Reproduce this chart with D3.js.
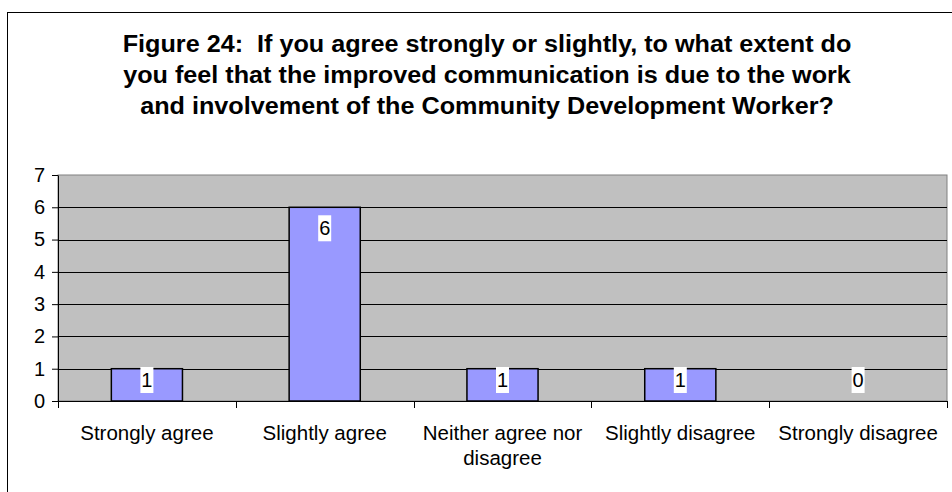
<!DOCTYPE html>
<html lang='en'>
    <head>
        <meta charset="utf-8">
        <script src="https://d3js.org/d3.v7.min.js"></script>
        <style>
            *{
                margin:0;
                padding:0
            }
            body{
                width:952px;
                height:492px;
                background-color:white;
                overflow:hidden;
            }
            svg{
                font-family:Arial,"Liberation Sans",sans-serif;
            }
            .title tspan{
                white-space:pre;
            }
        </style>
    </head>
    <body>
        <script>
            const categories=[['Strongly agree'],['Slightly agree'],['Neither agree nor','disagree'],['Slightly disagree'],['Strongly disagree']];
            const values=[1,6,1,1,0];
            const yTicks=[0,1,2,3,4,5,6,7];
            const titleLines=['Figure 24:  If you agree strongly or slightly, to what extent do',
                              'you feel that the improved communication is due to the work',
                              'and involvement of the Community Development Worker?'];

            const width=952,height=492;
            const plot={left:58,right:947,top:175,bottom:401};
            const fontSize=20;

            const svg=d3.select('body').append('svg')
                        .attr('width',width)
                        .attr('height',height);

            // outer chart border (runs past the right/bottom edge)
            svg.append('rect')
               .attr('x',7.5).attr('y',12.5)
               .attr('width',960).attr('height',500)
               .attr('fill','white')
               .attr('stroke','black')
               .attr('stroke-width',1);

            svg.append('text')
               .attr('class','title')
               .attr('transform','translate(487,0) scale(1.05,1)')
               .attr('text-anchor','middle')
               .attr('font-weight','bold')
               .attr('font-size',24)
               .selectAll('tspan')
               .data(titleLines)
               .enter()
               .append('tspan')
               .attr('x',0)
               .attr('y',(d,i)=>52+i*31)
               .text(d=>d);

            const xScale=d3.scaleBand()
                           .domain(d3.range(categories.length))
                           .range([plot.left,plot.right])
                           .paddingInner(0.6)
                           .paddingOuter(0.3);
            const xEdges=d3.scaleLinear()
                           .domain([0,categories.length])
                           .range([plot.left,plot.right]);
            const yScale=d3.scaleLinear()
                           .domain([0,7])
                           .range([plot.bottom,plot.top]);

            // plot area
            svg.append('rect')
               .attr('x',plot.left).attr('y',plot.top)
               .attr('width',plot.right-plot.left)
               .attr('height',plot.bottom-plot.top)
               .attr('fill','#C0C0C0')
               .attr('stroke','#808080')
               .attr('stroke-width',1);

            // gridlines
            svg.append('g')
               .selectAll('line')
               .data(yTicks.filter(d=>d>0&&d<7))
               .enter()
               .append('line')
               .attr('x1',plot.left).attr('x2',plot.right)
               .attr('y1',d=>Math.round(yScale(d))+0.5)
               .attr('y2',d=>Math.round(yScale(d))+0.5)
               .attr('stroke','black')
               .attr('stroke-width',1);

            // y axis
            const yAxis=svg.append('g')
               .attr('transform',`translate(${plot.left},0)`)
               .call(d3.axisLeft(yScale).tickValues(yTicks).tickFormat(d3.format('d'))
                       .tickSize(6).tickPadding(7).tickSizeOuter(0));
            yAxis.select('.domain').attr('stroke','black');
            yAxis.selectAll('text')
                 .attr('font-size',fontSize)
                 .attr('fill','black')
                 .attr('font-family','Arial,"Liberation Sans",sans-serif');

            // x axis with ticks on category boundaries
            svg.append('line')
               .attr('x1',plot.left).attr('x2',plot.right)
               .attr('y1',plot.bottom+0.5).attr('y2',plot.bottom+0.5)
               .attr('stroke','black');
            svg.append('g')
               .selectAll('line')
               .data(d3.range(categories.length+1))
               .enter()
               .append('line')
               .attr('x1',d=>Math.round(xEdges(d))+0.5)
               .attr('x2',d=>Math.round(xEdges(d))+0.5)
               .attr('y1',plot.bottom)
               .attr('y2',plot.bottom+7)
               .attr('stroke','black');

            svg.append('g')
               .selectAll('text')
               .data(categories)
               .enter()
               .append('text')
               .attr('text-anchor','middle')
               .attr('font-size',20.5)
               .each(function(lines,i){
                   d3.select(this).selectAll('tspan')
                     .data(lines)
                     .enter()
                     .append('tspan')
                     .attr('x',xScale(i)+xScale.bandwidth()/2)
                     .attr('y',(d,j)=>440+j*25)
                     .text(d=>d);
               });

            // bars
            svg.append('g')
               .selectAll('rect')
               .data(values)
               .enter()
               .append('rect')
               .attr('x',(d,i)=>xScale(i))
               .attr('y',d=>yScale(d))
               .attr('width',xScale.bandwidth())
               .attr('height',d=>yScale(0)-yScale(d))
               .attr('fill','#9999FF')
               .attr('stroke','black')
               .attr('stroke-width',1.5);

            // data labels
            const boxH=26,boxW=13;
            const labelTop=(d)=>Math.min(yScale(d)+8,yScale(0)-8-boxH);
            const labels=svg.append('g')
               .selectAll('g')
               .data(values)
               .enter()
               .append('g')
               .attr('transform',(d,i)=>`translate(${xScale(i)+xScale.bandwidth()/2},${labelTop(d)})`);
            labels.append('rect')
               .attr('x',-boxW/2).attr('y',0)
               .attr('width',boxW).attr('height',boxH)
               .attr('fill','white');
            labels.append('text')
               .attr('text-anchor','middle')
               .attr('y',20)
               .attr('font-size',fontSize)
               .text(d=>d);
        </script>
    </body>
</html>
